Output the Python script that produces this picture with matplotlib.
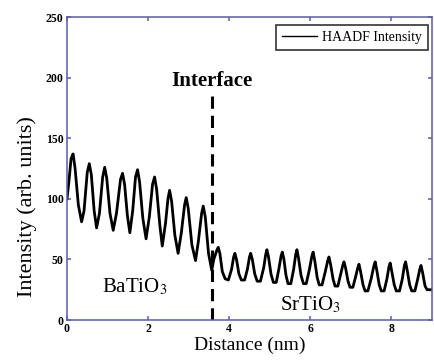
import matplotlib
matplotlib.use("Agg")
import matplotlib.pyplot as plt

# HAADF line profile (distance in nm, intensity in arb. units)
bto_x = [0.00, 0.05, 0.10, 0.15, 0.20, 0.28, 0.36, 0.42, 0.50, 0.55, 0.60, 0.67,
         0.73, 0.80, 0.88, 0.93, 0.98, 1.06, 1.14, 1.22, 1.32, 1.37, 1.42, 1.49,
         1.55, 1.62, 1.69, 1.74, 1.79, 1.87, 1.95, 2.03, 2.11, 2.16, 2.21, 2.29,
         2.35, 2.43, 2.49, 2.53, 2.58, 2.66, 2.74, 2.82, 2.90, 2.94, 2.99, 3.08,
         3.17, 3.24, 3.32, 3.36, 3.41, 3.49]
bto_y = [100, 115, 133, 137, 125, 95, 81, 90, 122, 129, 120, 90,
         76, 88, 118, 126, 117, 88, 74, 88, 116, 121, 112, 86,
         72, 90, 118, 124, 114, 84, 67, 85, 112, 118, 108, 78,
         61, 80, 100, 107, 98, 70, 55, 72, 95, 101, 92, 62,
         49, 65, 88, 94, 85, 55]
sto_x = [3.57, 3.62, 3.66, 3.70, 3.73, 3.77, 3.83, 3.90, 3.98, 4.06, 4.11, 4.14,
         4.18, 4.24, 4.30, 4.38, 4.45, 4.50, 4.53, 4.57, 4.63, 4.69, 4.77, 4.85,
         4.90, 4.93, 4.97, 5.03, 5.09, 5.16, 5.23, 5.28, 5.31, 5.35, 5.40, 5.45,
         5.52, 5.59, 5.64, 5.67, 5.71, 5.77, 5.83, 5.90, 5.98, 6.04, 6.07, 6.11,
         6.17, 6.22, 6.29, 6.37, 6.43, 6.46, 6.50, 6.56, 6.61, 6.68, 6.75, 6.80,
         6.83, 6.87, 6.93, 6.98, 7.05, 7.12, 7.17, 7.20, 7.24, 7.30, 7.35, 7.42,
         7.50, 7.57, 7.60, 7.64, 7.70, 7.75, 7.82, 7.89, 7.94, 7.97, 8.01, 8.07,
         8.12, 8.20, 8.27, 8.32, 8.35, 8.39, 8.45, 8.50, 8.58, 8.65, 8.70, 8.73,
         8.77, 8.83, 8.88, 9.00]
sto_y = [41, 50, 54, 58, 60, 55, 40, 34, 33, 42, 52, 55,
         50, 38, 33, 33, 42, 52, 55, 50, 38, 32, 32, 43,
         54, 58, 52, 38, 31, 31, 43, 53, 56, 50, 37, 30,
         30, 42, 54, 58, 51, 37, 30, 30, 42, 53, 56, 49,
         35, 29, 29, 40, 49, 52, 46, 34, 28, 28, 38, 45,
         48, 43, 32, 27, 27, 36, 43, 46, 40, 29, 24, 24,
         34, 45, 48, 41, 29, 24, 24, 34, 44, 47, 40, 29,
         24, 24, 34, 45, 48, 41, 29, 24, 24, 34, 42, 45,
         39, 28, 25, 25]

interface_x = 3.57
interface_top = 191
x_ticks = [0, 2, 4, 6, 8]
y_ticks = [0, 50, 100, 150, 200, 250]

serif = ["Liberation Serif", "DejaVu Serif"]
spine_color = "#5a5ab4"

fig = plt.figure(figsize=(4.35, 3.62), dpi=100)
ax = fig.add_axes([0.154, 0.116, 0.839, 0.837])

ax.plot(bto_x + sto_x, bto_y + sto_y, color="black", lw=2.0,
        solid_joinstyle="round", label="HAADF Intensity")
ax.plot([interface_x, interface_x], [0, interface_top], color="black",
        lw=2.2, dashes=(4, 2.3))

ax.set_xlim(0, 9)
ax.set_ylim(0, 250)
ax.set_xticks(x_ticks)
ax.set_yticks(y_ticks)
for s in ax.spines.values():
    s.set_color(spine_color)
    s.set_linewidth(1.1)
ax.tick_params(direction="in", length=3, width=1.1, color=spine_color,
               top=True, right=True, labelsize=8.5, pad=2.5)
for lab in ax.get_xticklabels() + ax.get_yticklabels():
    lab.set_family(serif)
    lab.set_fontweight("bold")

ax.set_xlabel("Distance (nm)", family=serif, fontsize=14, labelpad=1)
fig.text(0.062, 0.43, "Intensity (arb. units)", family=serif, fontsize=16,
         rotation=90, ha="center", va="center")

ax.text(interface_x, 197, "Interface", family=serif, fontsize=15,
        fontweight="bold", ha="center", va="center")
ax.text(1.66, 27, r"BaTiO$_3$", family=serif, fontsize=15,
        ha="center", va="center", math_fontfamily="stix")
ax.text(6.0, 12.4, r"SrTiO$_3$", family=serif, fontsize=15,
        ha="center", va="center", math_fontfamily="stix")

leg = ax.legend(loc="upper right", bbox_to_anchor=(0.989, 0.974),
                borderaxespad=0, fancybox=False, handlelength=2.5,
                handletextpad=0.35, borderpad=0.45,
                prop={"family": serif, "size": 10})
leg.get_frame().set_edgecolor("black")
leg.get_frame().set_linewidth(1.2)
leg.get_lines()[0].set_linewidth(1.0)

fig.savefig("out.png", dpi=100)
